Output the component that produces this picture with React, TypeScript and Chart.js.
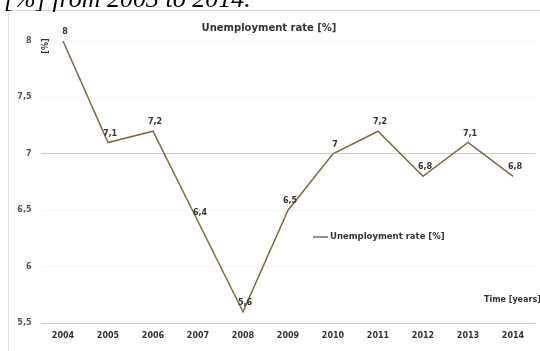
import React, { useEffect, useRef } from 'react';
import { Chart, registerables } from 'chart.js';

Chart.register(...registerables);

const categories = ['2004', '2005', '2006', '2007', '2008', '2009', '2010', '2011', '2012', '2013', '2014'];
const unemployment = [8, 7.1, 7.2, 6.4, 5.6, 6.5, 7, 7.2, 6.8, 7.1, 6.8];
const yMin = 5.5;
const yMax = 8;
const yStep = 0.5;
const seriesLabel = 'Unemployment rate [%]';
const chartTitle = 'Unemployment rate [%]';
const xTitle = 'Time [years]';
const yTitle = '[%]';
const caption = '[%] from 2003 to 2014.';

const fmt = (v: number) => String(v).replace('.', ',');
const FONT = '"DejaVu Sans", "Liberation Sans", sans-serif';

const overlay = {
  id: 'overlay',
  afterDatasetsDraw(chart: any) {
    const ctx = chart.ctx;
    const meta = chart.getDatasetMeta(0);
    const ds = chart.data.datasets[0];
    ctx.save();
    ctx.fillStyle = '#333';
    ctx.font = `bold 8px ${FONT}`;
    ctx.textAlign = 'center';
    ctx.textBaseline = 'bottom';
    meta.data.forEach((pt: any, i: number) => {
      ctx.fillText(fmt(ds.data[i]), pt.x + 2, pt.y - 5);
    });
    ctx.textBaseline = 'middle';
    ctx.font = `bold 10px ${FONT}`;
    ctx.fillText(chartTitle, 269, 28);
    ctx.save();
    ctx.translate(46, 46);
    ctx.rotate(-Math.PI / 2);
    ctx.font = `bold 8px ${FONT}`;
    ctx.fillText(yTitle, 0, 0);
    ctx.restore();
    ctx.textAlign = 'left';
    ctx.font = `bold 8px ${FONT}`;
    ctx.fillText(xTitle, 484, 300);
    ctx.strokeStyle = ds.borderColor;
    ctx.lineWidth = 1.5;
    ctx.beginPath();
    ctx.moveTo(313, 237);
    ctx.lineTo(328, 237);
    ctx.stroke();
    ctx.font = `bold 8.5px ${FONT}`;
    ctx.fillText(ds.label, 330, 237);
    ctx.restore();
  },
};

export default function App() {
  const ref = useRef<HTMLCanvasElement | null>(null);
  useEffect(() => {
    if (!ref.current) return;
    const chart = new Chart(ref.current, {
      type: 'line',
      data: {
        labels: categories,
        datasets: [
          {
            label: seriesLabel,
            data: unemployment,
            borderColor: '#7d6a45',
            borderWidth: 1.5,
            pointRadius: 0,
            tension: 0,
          },
        ],
      },
      options: {
        animation: false,
        responsive: false,
        maintainAspectRatio: false,
        layout: { padding: { top: 41, left: 0, right: 4.5, bottom: 0 } },
        plugins: { legend: { display: false }, title: { display: false }, tooltip: { enabled: false } },
        scales: {
          x: {
            offset: true,
            grid: { display: false },
            border: { display: false },
            ticks: {
              color: '#333',
              font: { family: FONT, size: 8, weight: 'bold' },
              padding: 0,
              maxRotation: 0,
            },
            afterFit: (s: any) => {
              s.height = 28;
            },
          },
          y: {
            min: yMin,
            max: yMax,
            border: { display: false },
            grid: {
              drawTicks: false,
              color: (c: any) =>
                c.tick && (c.tick.value === 7 || c.tick.value === yMin) ? '#cccccc' : 'rgba(0,0,0,0.035)',
              lineWidth: 1,
            },
            ticks: {
              stepSize: yStep,
              color: '#555',
              padding: 9,
              font: { family: FONT, size: 8, weight: 'bold' },
              callback: (v: any) => fmt(Number(v)),
            },
            afterFit: (s: any) => {
              s.width = 40.5;
            },
          },
        },
      },
      plugins: [overlay],
    });
    return () => chart.destroy();
  }, []);
  return (
    <div style={{ position: 'absolute', left: 0, top: 0, width: 540, height: 351, overflow: 'hidden', background: '#fff' }}>
      <div
        style={{
          position: 'absolute',
          left: 8,
          top: 10,
          width: 540,
          height: 360,
          border: '1px solid #dcdcdc',
          boxSizing: 'border-box',
        }}
      />
      <canvas ref={ref} width={540} height={351} style={{ position: 'absolute', left: 0, top: 0 }} />
      <div
        style={{
          position: 'absolute',
          left: 4,
          top: -16,
          fontFamily: '"Liberation Serif", serif',
          fontStyle: 'italic',
          fontSize: 26,
          whiteSpace: 'nowrap',
          color: '#000',
        }}
      >
        {caption}
      </div>
    </div>
  );
}
